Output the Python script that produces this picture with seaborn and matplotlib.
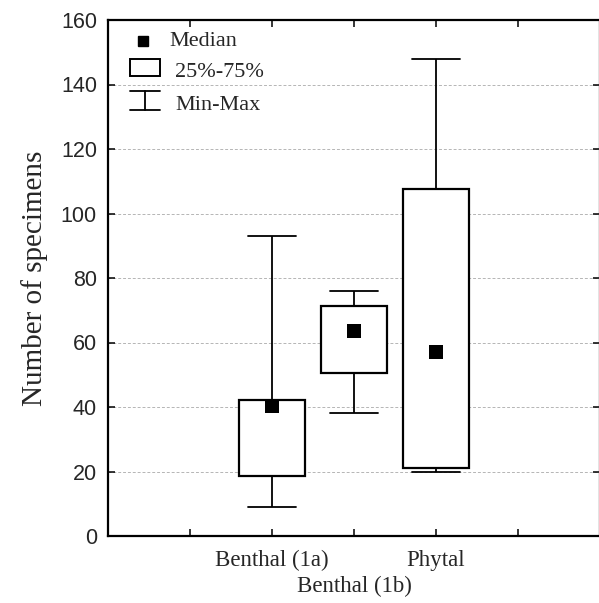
import numpy as np
import pandas as pd
import matplotlib
matplotlib.use("Agg")
import matplotlib.pyplot as plt
import matplotlib.transforms as mtransforms
import seaborn as sns

# ---- data (five-number summaries) ----
groups = ["Benthal (1a)", "Benthal (1b)", "Phytal"]
mins = [9, 38, 20]
q1s = [18.5, 50.4, 21]
medians = [40.2, 63.6, 57.2]
q3s = [42.2, 71.2, 107.5]
maxs = [93, 76, 148]
tick_labels = ["", "", "Benthal (1a)", "Benthal (1b)", "Phytal", "", ""]
y_ticks = [0, 20, 40, 60, 80, 100, 120, 140, 160]

rows = []
for g, a, b, c, d, e in zip(groups, mins, q1s, medians, q3s, maxs):
    for v in (a, b, c, d, e):
        rows.append({"group": g, "value": v})
df = pd.DataFrame(rows)
med_df = pd.DataFrame({"group": groups, "value": medians})

sns.set_style("ticks")
plt.rcParams["font.family"] = ["Liberation Serif", "DejaVu Serif"]

fig = plt.figure(figsize=(5.99, 6.03), dpi=100)
ax = fig.add_axes([108 / 599, 67 / 603, 492 / 599, 516 / 603])

sns.boxplot(data=df, x="group", y="value", order=groups, ax=ax,
            color="white", linecolor="black", saturation=1, width=0.8,
            whis=(0, 100), linewidth=1.3,
            boxprops={"linewidth": 1.6},
            medianprops={"visible": False},
            capwidths=0.58, zorder=3)
sns.stripplot(data=med_df, x="group", y="value", order=groups, ax=ax,
              jitter=False, marker="s", size=9.4, color="black",
              linewidth=0, zorder=5)

ax.set_xlim(-2, 4)
ax.set_ylim(0, 160)
ax.set_xticks(range(-2, 5))
ax.set_xticklabels(tick_labels, fontsize=16.5, family=["Liberation Serif"])
ax.set_yticks(y_ticks)
ax.set_yticklabels([str(t) for t in y_ticks], fontsize=15.5,
                   family=["Liberation Sans"])
ax.set_xlabel("")
ax.set_ylabel("Number of specimens", fontsize=21, labelpad=9,
              family=["Liberation Serif"])

ax.tick_params(axis="both", direction="in", length=5, width=1.1,
               top=True, right=True, color="black")
ax.tick_params(axis="x", pad=10)
ax.tick_params(axis="y", pad=8)
for s in ax.spines.values():
    s.set_linewidth(1.6)
    s.set_color("black")
    s.set_visible(True)

ax.set_axisbelow(True)
ax.grid(axis="y", linestyle=(0, (3, 2)), color="#b5b5b5", linewidth=0.7,
        zorder=0)

# stagger the middle category label onto a second row
mid_label = ax.get_xticklabels()[3]
mid_label.set_transform(mid_label.get_transform() +
                        mtransforms.ScaledTranslation(0, -0.26,
                                                      fig.dpi_scale_trans))

# ---- legend drawn in axes coordinates ----
tr = ax.transAxes
ax.plot([0.0711], [0.959], marker="s", markersize=7.5, color="black",
        linestyle="none", transform=tr, clip_on=False, zorder=6)
ax.text(0.124, 0.959, "Median", transform=tr, fontsize=16, va="center",
        ha="left")
ax.add_patch(plt.Rectangle((0.0447, 0.891), 0.061, 0.033, transform=tr,
                           facecolor="white", edgecolor="black",
                           linewidth=1.4, zorder=6))
ax.text(0.136, 0.899, "25%-75%", transform=tr, fontsize=16, va="center",
        ha="left")
ax.plot([0.0447, 0.1057], [0.862, 0.862], color="black", lw=1.3,
        transform=tr)
ax.plot([0.0752, 0.0752], [0.862, 0.826], color="black", lw=1.3,
        transform=tr)
ax.plot([0.0447, 0.1057], [0.826, 0.826], color="black", lw=1.3,
        transform=tr)
ax.text(0.136, 0.835, "Min-Max", transform=tr, fontsize=16, va="center",
        ha="left")

fig.savefig("out.png", dpi=100)
